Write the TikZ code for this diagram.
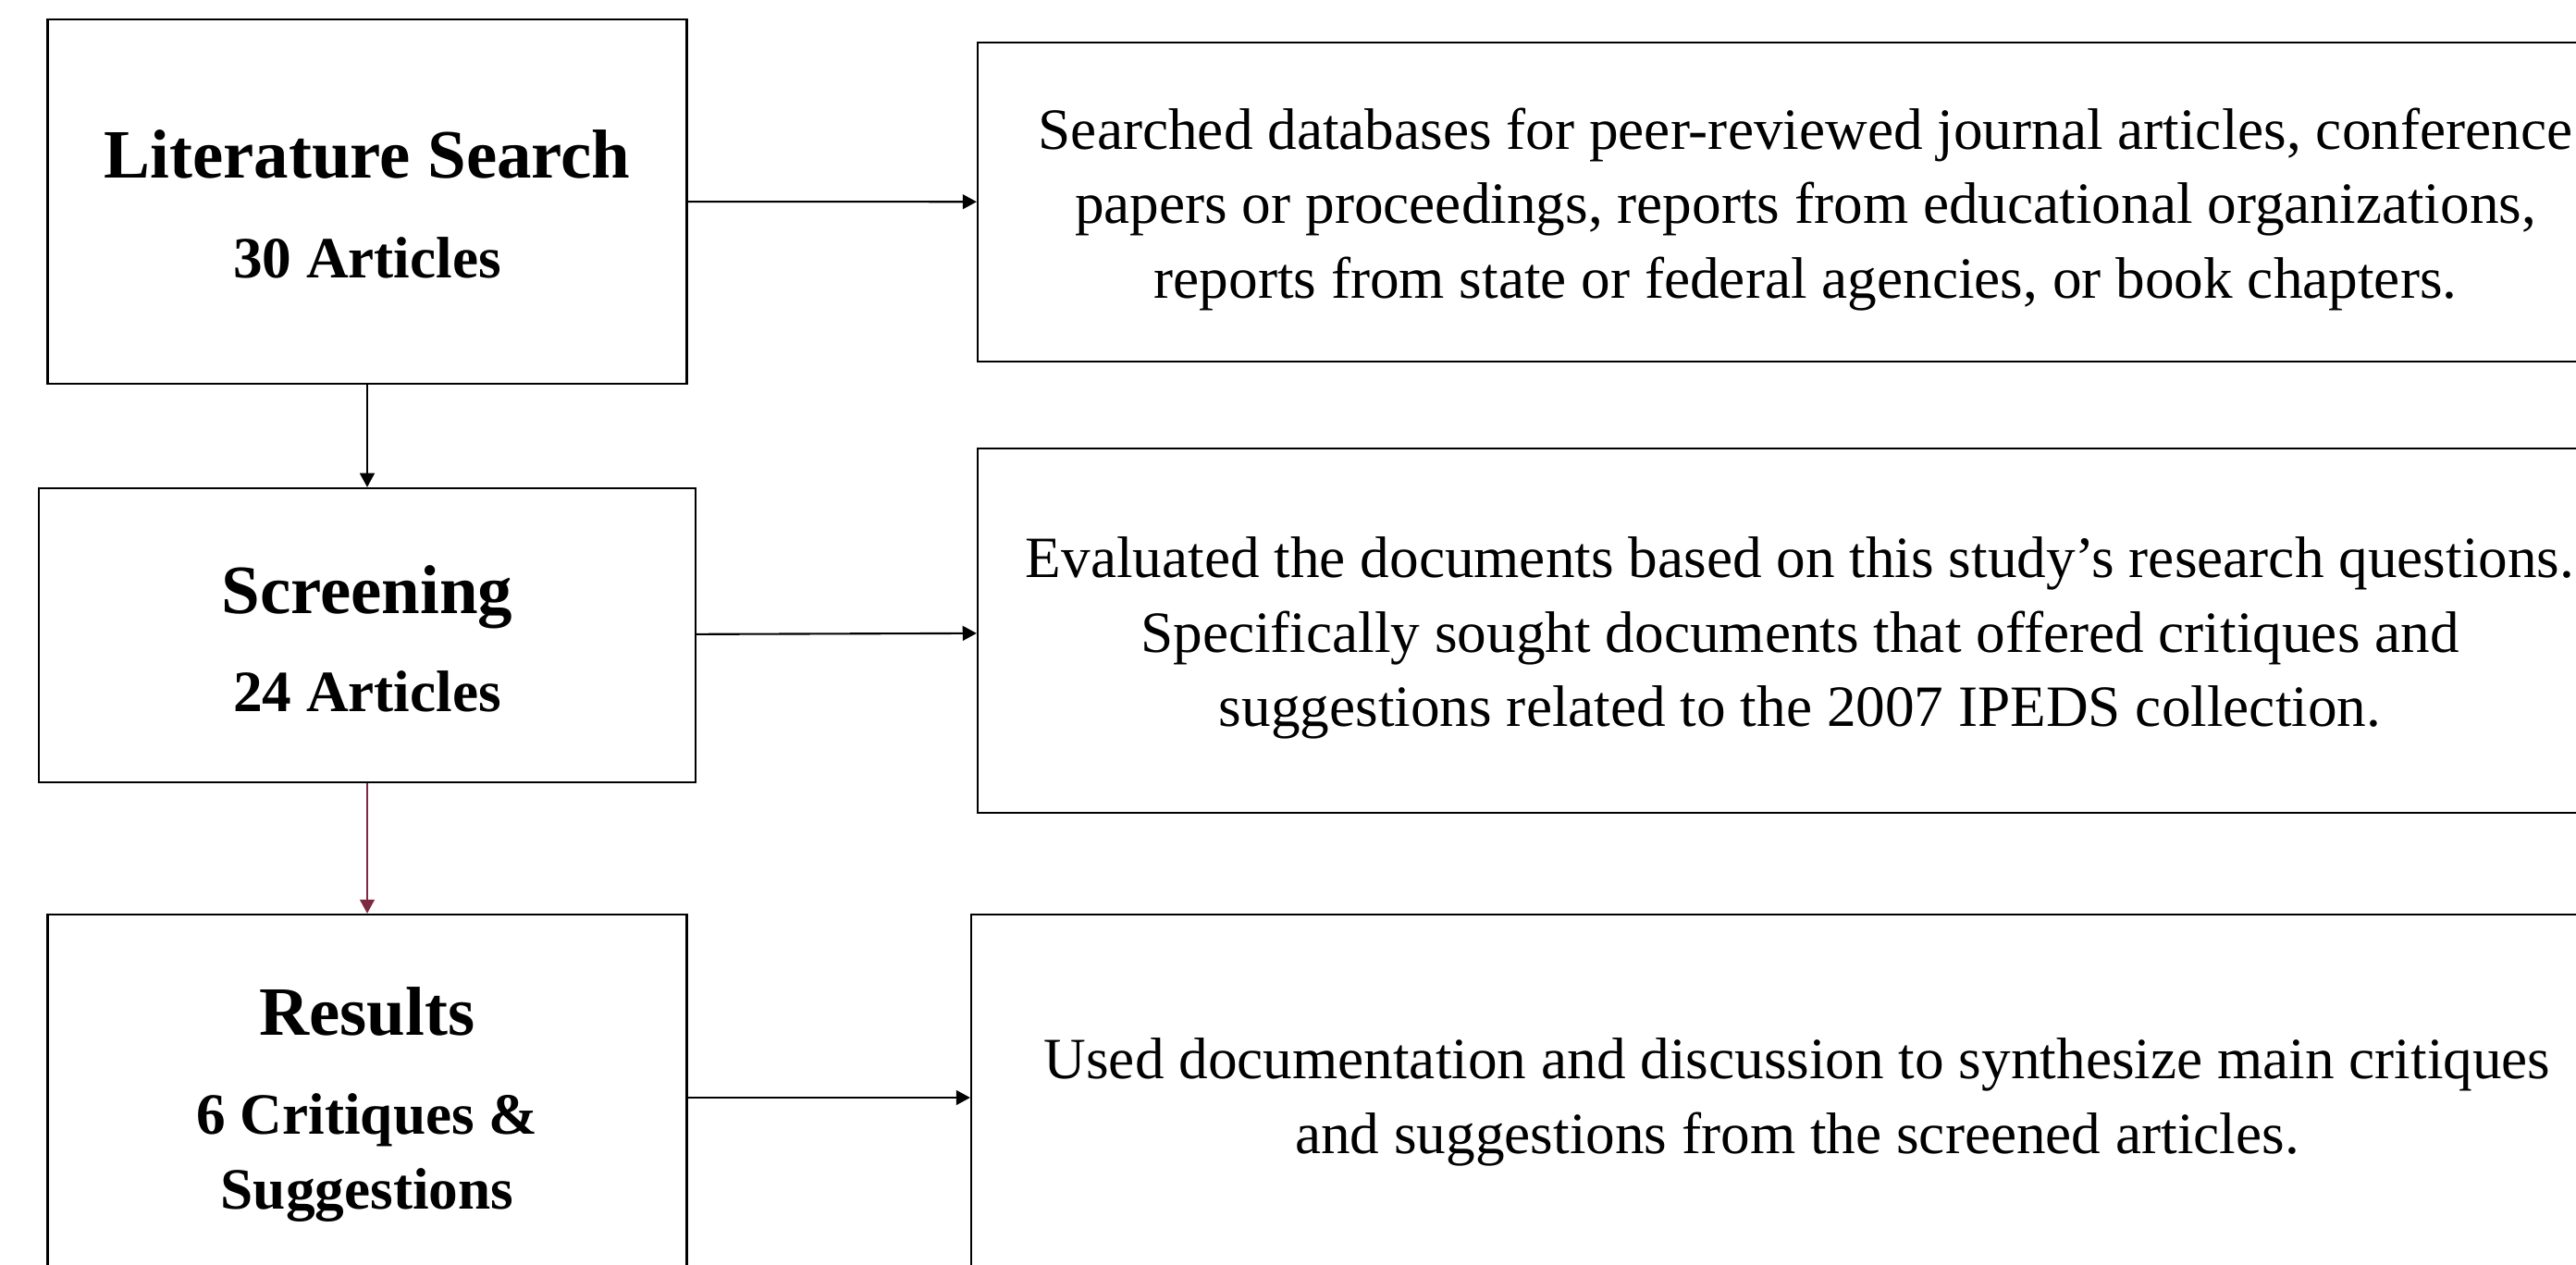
\documentclass[tikz,border=0pt]{standalone}
\usepackage{fontspec}
\setmainfont{Liberation Serif}
\usetikzlibrary{arrows.meta,positioning}
\definecolor{wine}{RGB}{124,42,66}
\tikzset{box/.style={draw=black,line width=0.65pt,inner sep=0pt}}
\tikzset{stage/.style={font=\fontsize{21.3}{26}\selectfont\bfseries,inner sep=0pt}}
\tikzset{count/.style={font=\fontsize{18}{22.8}\selectfont\bfseries,align=center,inner sep=0pt}}
\tikzset{note/.style={font=\fontsize{18}{23}\selectfont,align=center,inner sep=0pt}}
\tikzset{flow/.style={-{Triangle[length=4.3pt,width=4.5pt]},line width=0.6pt}}

\begin{document}
\begin{tikzpicture}
\useasboundingbox (0,0) rectangle (27.85,13.67);
\clip (0,0) rectangle (27.85,13.67);
% stages on the left
\node (lit) [box,minimum width=6.91cm,minimum height=3.94cm] at (3.97,11.49) {};
\node (scr) [box,minimum width=7.10cm,minimum height=3.18cm] at (3.97,6.80) {};
\node (res) [box,minimum width=6.91cm,minimum height=3.96cm] at (3.97,1.80) {};
\node (litT) [stage,anchor=base] at (3.97,11.74) {Literature Search};
\node (litN) [count,anchor=base] at (3.97,10.67) {30 Articles};
\node (scrT) [stage,anchor=base] at (3.97,7.04) {Screening};
\node (scrN) [count,anchor=base] at (3.97,5.98) {24 Articles};
\node (resT) [stage,anchor=base] at (3.97,2.48) {Results};
\node (resN) [count] at (3.97,1.15) {6 Critiques \&\\Suggestions};
% descriptions on the right
\node (srch) [box,minimum width=17.90cm,minimum height=3.45cm] at (19.52,11.485) {};
\node (eval) [box,minimum width=17.78cm,minimum height=3.94cm] at (19.46,6.85) {};
\node (used) [box,minimum width=17.86cm,minimum height=3.96cm] at (19.43,1.80) {};
\node (srchT) [note] at (19.52,11.405) {Searched databases for peer-reviewed journal articles, conference\\papers or proceedings, reports from educational organizations,\\reports from state or federal agencies, or book chapters.};
\node (evalT) [note] at (19.46,6.77) {Evaluated the documents based on this study’s research questions.\\Specifically sought documents that offered critiques and\\suggestions related to the 2007 IPEDS collection.};
\node (usedT) [note] at (19.43,1.75) {Used documentation and discussion to synthesize main critiques\\and suggestions from the screened articles.};
%
\draw[flow] (lit) -- (scr);
\draw[flow,wine] (scr) -- (res);
\draw[flow] (lit) -- (srch);
\draw[flow] (scr) -- (eval);
\draw[flow] (res) -- (used);
\end{tikzpicture}
\end{document}
